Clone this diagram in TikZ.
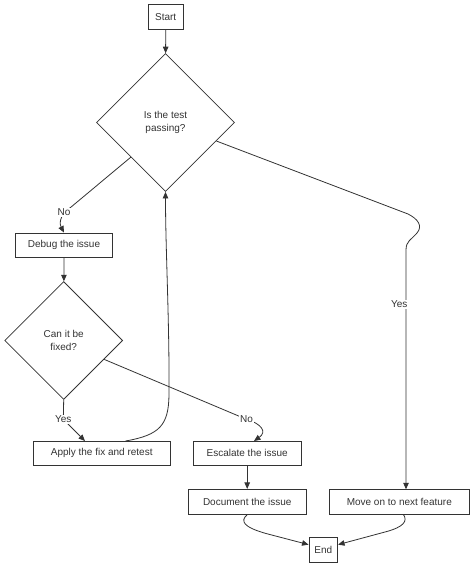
\documentclass[tikz,border=0pt]{standalone}
\usepackage{fontspec}
\setmainfont{Liberation Sans}
\usetikzlibrary{shapes.geometric,arrows.meta}
\definecolor{ink}{HTML}{333333}
\begin{document}
\begin{tikzpicture}[x=1pt,y=-1pt,
  every node/.style={font=\fontsize{10}{12.5}\selectfont, text=ink},
  box/.style={draw=ink, line width=0.8pt, rectangle, inner sep=0pt, minimum height=24.7pt},
  dia/.style={draw=ink, line width=0.8pt, diamond, inner sep=0pt, align=center},
  lbl/.style={fill=white, inner sep=1pt},
  conn/.style={draw=ink, line width=0.8pt},
  arr/.style={conn, -{Triangle[length=6.5pt,width=5.5pt]}}]
\useasboundingbox (0,0) rectangle (474,567);
% nodes
\node[box, minimum width=34.5pt, minimum height=25pt] (start) at (165.7,17) {Start};
\node[dia, minimum width=138pt, minimum height=138pt] (d1) at (165.5,122.5) {Is the test\\passing?};
\node[box, minimum width=97.7pt] (debug) at (64,245.3) {Debug the issue};
\node[dia, minimum width=118pt, minimum height=118pt] (d2) at (63.7,340.5) {Can it be\\fixed?};
\node[box, minimum width=136.7pt] (apply) at (101.7,453.3) {Apply the fix and retest};
\node[box, minimum width=107.7pt] (esc) at (247.2,453.3) {Escalate the issue};
\node[box, minimum width=117.7pt, minimum height=25pt] (doc) at (247.2,501.8) {Document the issue};
\node[box, minimum width=140pt, minimum height=25pt] (move) at (399.3,501.8) {Move on to next feature};
\node[box, minimum width=28.7pt, minimum height=25.3pt] (end) at (323.3,550) {End};
% helper coordinates
\coordinate (noBend) at (70.5,207.5);
\coordinate (yesMid) at (63.3,419.3);
\coordinate (applyY) at (85,441);
\coordinate (applyL) at (125.5,441);
\coordinate (noMid) at (246.5,419.3);
\coordinate (escTop) at (254,441);
\coordinate (moveTop) at (406,489.3);
\coordinate (moveBot) at (403.3,514.3);
% connectors
\draw[arr] (start) -- (d1);
\draw[arr] (d1.south west) -- (noBend) .. controls (58,216) and (60,225) .. (debug.north);
\draw[arr] (debug) -- (d2);
\draw[arr] (d2.south) -- (yesMid) -- (applyY);
\draw[arr] (applyL) .. controls (160,435) and (168.5,425) .. (169,395) .. controls (169.5,320) and (165.5,250) .. (d1.south);
\draw[arr] (d2.-25) -- (noMid) .. controls (262,424) and (267,432) .. (escTop);
\draw[arr] (esc) -- (doc);
\draw[arr] (d1.-20) -- (408,214) .. controls (418,219) and (423,226) .. (417,233) .. controls (411,240) and (406,241) .. (406,250) -- (moveTop);
\draw[arr] (doc.south) .. controls (240,521) and (243,527) .. (266,533.5) -- (end.160);
\draw[arr] (moveBot) .. controls (408,521) and (404,527) .. (385,532) -- (end.20);
% labels
\node[lbl] (lno1) at (64,212.5) {No};
\node[lbl] (lyes1) at (399.3,304.3) {Yes};
\node[lbl] (lyes2) at (yesMid) {Yes};
\node[lbl] (lno2) at (noMid) {No};
\end{tikzpicture}
\end{document}
